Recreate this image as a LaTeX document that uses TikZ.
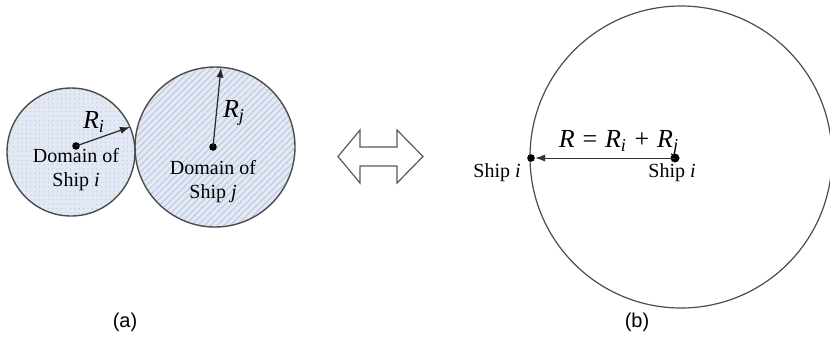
\documentclass[tikz,border=0pt]{standalone}
\usepackage{fontspec}
\setmainfont{Liberation Serif}
\newfontfamily\arialf{Liberation Sans}
\usetikzlibrary{patterns,patterns.meta,arrows.meta}
\definecolor{domfill}{RGB}{226,233,244}
\definecolor{dompat}{RGB}{178,192,216}
\definecolor{dotpat}{RGB}{185,196,214}
\begin{document}
\begin{tikzpicture}[x=0.5pt,y=-0.5pt,
  domline/.style={draw=black!70, line width=0.7pt},
  shipdot/.style={circle, fill=black, inner sep=0pt, minimum size=3.8pt},
  lbl/.style={font=\fontsize{10}{12}\selectfont, align=center, inner sep=0pt},
  mathlbl/.style={font=\fontsize{13}{15}\selectfont, inner sep=0pt},
  radarrow/.style={-{Latex[length=5pt,width=3.6pt]}, line width=0.6pt, draw=black!85},
  caplbl/.style={font=\arialf\fontsize{10}{12}\selectfont, inner sep=0pt}
]
\useasboundingbox (0,0) rectangle (830,345);
\clip (0,0) rectangle (830,345);
% (a) small domain
\fill[domfill] (71,152) circle (64);
\fill[pattern={Dots[distance=2.2pt,radius=0.3pt]}, pattern color=dotpat] (71,152) circle (64);
% (a) large domain
\fill[domfill] (215,147) circle (80);
\fill[pattern={Lines[angle=45,distance=2.3pt,line width=0.35pt]}, pattern color=dompat] (215,147) circle (80);
\draw[domline] (71,152) circle (64);
\draw[domline] (215,147) circle (80);
% centres and radii
\node[shipdot] (ci) at (76,146) {};
\node[shipdot] (cj) at (213,147) {};
\coordinate (ri) at (130,127);
\coordinate (rj) at (221,67.5);
\draw[radarrow] (ci.center) -- (ri);
\draw[radarrow] (cj.center) -- (rj);
\node[mathlbl] (lri) at (94,122) {\textit{R}\textsubscript{\textit{i}}};
\node[mathlbl] (lrj) at (234,113) {\textit{R}\textsubscript{\textit{j}}};
\node[lbl] (ti) at (76,169.5) {Domain of\\Ship \textit{i}};
\node[lbl] (tj) at (213,181.5) {Domain of\\Ship \textit{j}};
% double arrow
\draw[black!65, line width=0.6pt, fill=white]
  (338,156.5) -- (360,130) -- (360,147) -- (397,147) -- (397,130) -- (423,156.5)
  -- (397,183) -- (397,166) -- (360,166) -- (360,183) -- cycle;
% (b)
\draw[domline, line width=0.6pt] (681,157) circle (151);
\node[shipdot, minimum size=4.5pt] (sr) at (675,158) {};
\node[shipdot] (sl) at (531,158) {};
\draw[-{Latex[length=5pt,width=3.6pt]}, line width=0.5pt, draw=black!80] (sr.center) -- (sl.east);
\node[mathlbl] (lr) at (619,143) {\textit{R}\hspace{0.3em}=\hspace{0.3em}\textit{R}\textsubscript{\textit{i}}\hspace{0.3em}+\hspace{0.3em}\textit{R}\textsubscript{\textit{j}}};
\node[lbl] (sli) at (497,173) {Ship \textit{i}};
\node[lbl] (sri) at (672,173) {Ship \textit{i}};
% captions
\node[caplbl] (capa) at (125,322) {(a)};
\node[caplbl] (capb) at (637,322) {(b)};
\end{tikzpicture}
\end{document}
